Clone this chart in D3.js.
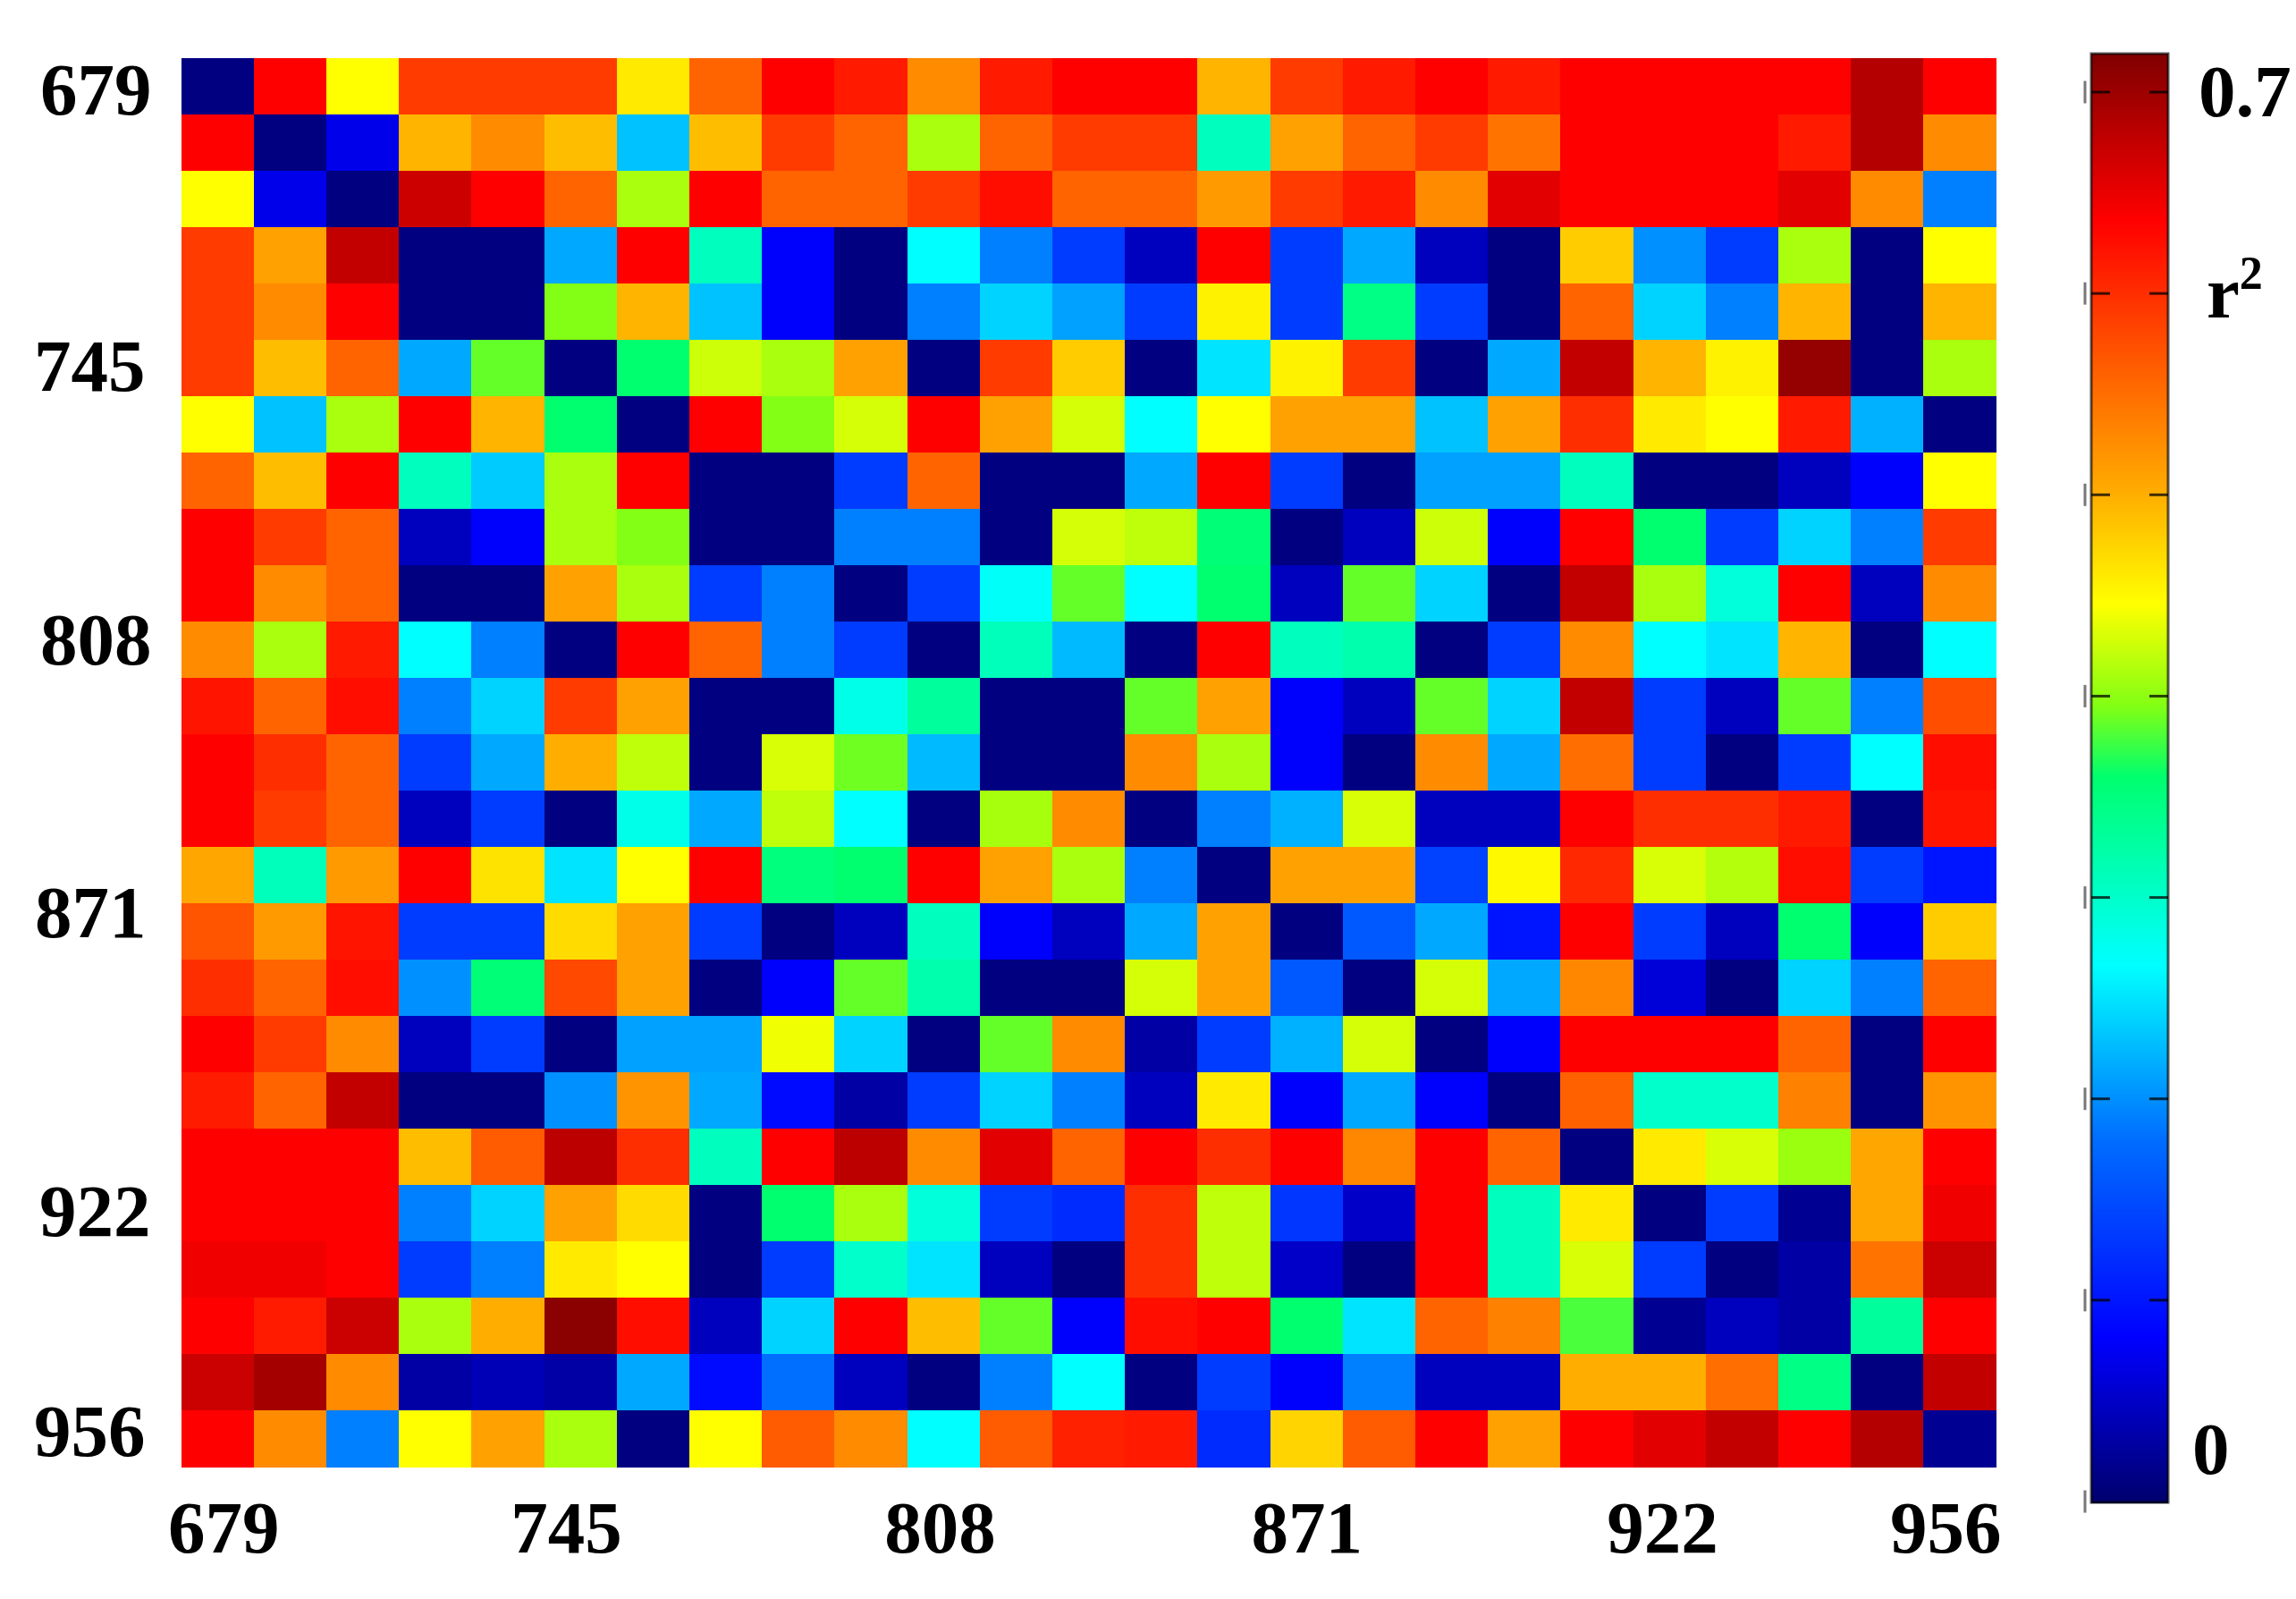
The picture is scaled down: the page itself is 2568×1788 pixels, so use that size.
<!DOCTYPE html>
<html><head><meta charset="utf-8">
<script src="https://cdnjs.cloudflare.com/ajax/libs/d3/7.8.5/d3.min.js"></script>
<style>html,body{margin:0;padding:0;background:#fff}svg{display:block}text{font-family:"Liberation Serif",serif;font-weight:700;fill:#000}</style>
</head><body><svg id="c" width="2568" height="1788"></svg>
<script>
const tickLabels = ["679","745","808","871","922","956"];
const xTickPositions = [0.58,5.3,10.45,15.5,20.4,24.3];
const yTickPositions = [0.61,5.5,10.36,15.2,20.5,24.4];
const colorbarTicks = [0,0.1,0.2,0.3,0.4,0.5,0.6,0.7];
const colorbarLabels = [0,0.7];
const colorStopValues = [0,0.081,0.18,0.266,0.36,0.395,0.446,0.503,0.636,0.719];
const colorStopColors = ["#00006e","#0000ff","#006eff","#00ffff","#00ff6e","#82ff14","#ffff00","#ffaa00","#ff0000","#800000"];
const r2 = [
[.01,.636,.446,.59,.59,.59,.46,.558,.636,.616,.527,.616,.636,.636,.496,.59,.616,.636,.616,.636,.636,.636,.636,.685,.636],
[.636,.01,.07,.496,.527,.49,.23,.49,.59,.558,.411,.558,.59,.59,.308,.51,.558,.59,.545,.636,.636,.636,.616,.685,.527],
[.446,.07,.01,.669,.636,.558,.411,.636,.558,.558,.59,.625,.558,.558,.515,.59,.616,.527,.655,.636,.636,.636,.655,.527,.19],
[.59,.51,.675,.01,.01,.215,.636,.308,.08,.01,.266,.19,.135,.045,.636,.135,.215,.045,.01,.48,.2,.135,.411,.01,.446],
[.59,.527,.636,.01,.01,.395,.496,.23,.08,.01,.19,.24,.21,.135,.455,.135,.345,.135,.01,.558,.24,.19,.496,.01,.496],
[.59,.49,.558,.215,.387,.01,.36,.425,.411,.51,.01,.59,.48,.01,.25,.455,.59,.01,.215,.675,.496,.455,.705,.01,.411],
[.446,.23,.411,.636,.496,.36,.01,.636,.395,.429,.636,.51,.429,.266,.446,.51,.51,.23,.51,.6,.46,.446,.616,.22,.01],
[.558,.49,.636,.308,.235,.411,.636,.01,.01,.135,.558,.01,.01,.215,.636,.135,.01,.21,.21,.308,.01,.01,.045,.08,.446],
[.636,.59,.558,.045,.08,.411,.395,.01,.01,.19,.19,.01,.429,.42,.355,.01,.045,.425,.08,.636,.36,.135,.24,.19,.59],
[.636,.527,.558,.01,.01,.51,.411,.135,.19,.01,.135,.27,.387,.266,.36,.045,.387,.24,.01,.675,.411,.29,.636,.045,.527],
[.527,.411,.616,.266,.19,.01,.636,.558,.19,.135,.01,.31,.225,.01,.636,.308,.32,.01,.135,.527,.266,.25,.496,.01,.266],
[.62,.558,.625,.19,.24,.59,.51,.01,.01,.28,.33,.01,.01,.387,.51,.08,.045,.387,.24,.675,.135,.045,.387,.19,.575],
[.636,.6,.558,.135,.215,.5,.42,.01,.43,.39,.225,.01,.01,.527,.411,.08,.01,.527,.215,.55,.135,.01,.135,.266,.625],
[.636,.59,.558,.045,.135,.01,.28,.215,.42,.266,.01,.41,.527,.01,.19,.22,.43,.045,.045,.636,.6,.6,.616,.01,.62],
[.505,.31,.515,.636,.465,.25,.446,.636,.35,.36,.636,.51,.411,.19,.01,.51,.51,.14,.45,.605,.43,.415,.625,.135,.1],
[.57,.515,.62,.135,.135,.47,.51,.135,.01,.045,.308,.08,.045,.215,.51,.01,.16,.215,.1,.636,.135,.045,.36,.08,.48],
[.6,.558,.625,.2,.355,.58,.51,.01,.08,.387,.32,.01,.01,.429,.51,.16,.01,.429,.215,.53,.06,.01,.24,.19,.558],
[.636,.59,.527,.045,.135,.01,.21,.21,.44,.24,.01,.387,.527,.03,.135,.22,.429,.01,.08,.636,.636,.636,.558,.01,.636],
[.615,.558,.675,.01,.01,.2,.52,.215,.09,.03,.135,.24,.19,.045,.46,.08,.215,.08,.01,.56,.3,.3,.535,.01,.52],
[.636,.636,.636,.49,.565,.68,.6,.308,.636,.68,.527,.655,.558,.636,.6,.636,.53,.636,.558,.01,.46,.43,.405,.505,.636],
[.636,.636,.636,.19,.24,.51,.47,.01,.36,.411,.29,.135,.12,.6,.42,.13,.05,.636,.308,.46,.01,.135,.02,.505,.645],
[.645,.645,.636,.135,.19,.46,.446,.01,.135,.3,.25,.045,.01,.6,.42,.05,.01,.636,.308,.43,.135,.01,.03,.545,.67],
[.636,.615,.67,.411,.5,.712,.625,.045,.24,.636,.49,.387,.08,.625,.636,.36,.25,.558,.535,.38,.02,.045,.03,.33,.636],
[.67,.695,.527,.03,.04,.03,.215,.09,.18,.045,.01,.19,.266,.01,.135,.08,.19,.045,.045,.5,.5,.55,.345,.01,.675],
[.636,.527,.19,.446,.51,.411,.01,.446,.565,.527,.266,.565,.61,.616,.12,.475,.565,.636,.51,.636,.655,.675,.636,.685,.02]
];

const plot = {x:202.6, y:64.6, w:2029.9, h:1575.4};
const svg = d3.select("#c");
const color = d3.scaleLinear().domain(colorStopValues).range(colorStopColors).interpolate(d3.interpolateRgb).clamp(true);
const cols = d3.range(25);
const xBand = d3.scaleBand().domain(cols).range([plot.x, plot.x+plot.w]);
const yBand = d3.scaleBand().domain(cols).range([plot.y, plot.y+plot.h]);
const cells = r2.flatMap((row,r)=>cols.map(c=>({r,c,v:row[c]})));
svg.append("g").attr("shape-rendering","crispEdges").selectAll("rect").data(cells).join("rect")
  .attr("x",d=>xBand(d.c)).attr("y",d=>yBand(d.r))
  .attr("width",xBand.bandwidth()+0.5).attr("height",yBand.bandwidth()+0.5)
  .attr("fill",d=>color(d.v));

const xPos = d3.scaleLinear().domain([0,25]).range([plot.x,plot.x+plot.w]);
const yPos = d3.scaleLinear().domain([0,25]).range([plot.y,plot.y+plot.h]);
const fs = 83;
const xAxis = d3.axisBottom(xPos).tickValues(xTickPositions).tickFormat((d,i)=>tickLabels[i]).tickSize(0);
const gx = svg.append("g").attr("transform",`translate(0,${plot.y+plot.h})`).call(xAxis);
gx.select(".domain").remove();
gx.selectAll("text").attr("y",96).attr("dy",0).attr("font-size",fs).style("font-family",'"Liberation Serif",serif');
const yAxis = d3.axisLeft(yPos).tickValues(yTickPositions).tickFormat((d,i)=>tickLabels[i]).tickSize(0);
const gy = svg.append("g").attr("transform",`translate(${plot.x},0)`).call(yAxis);
gy.select(".domain").remove();
const yLabelShift = [-33,-40,-33,-39,-34,-40];
gy.selectAll("text").attr("x",(d,i)=>yLabelShift[i]).attr("dy","0.30em").attr("font-size",fs).style("font-family",'"Liberation Serif",serif');

// colour bar
const bar = {x:2339, w:86, top:60, bottom:1680};
const barY = d3.scaleLinear().domain([0,0.7]).range([1679,103]);
const barSteps = d3.range(bar.bottom, bar.top, -2);
svg.append("g").attr("shape-rendering","crispEdges").selectAll("rect").data(barSteps).join("rect")
  .attr("x",bar.x).attr("width",bar.w).attr("y",d=>d-2).attr("height",2.5)
  .attr("fill",d=>color(barY.invert(d)));
const edge = svg.append("g").attr("fill","none").attr("stroke","#000");
edge.append("rect").attr("x",bar.x).attr("y",bar.top).attr("width",bar.w).attr("height",bar.bottom-bar.top)
  .attr("stroke-width",3).attr("stroke-opacity",0.65);
const tickG = svg.append("g").selectAll("g").data(colorbarTicks).join("g").attr("transform",d=>`translate(0,${barY(d)})`);
tickG.filter(d=>d>0).append("line").attr("x1",bar.x).attr("x2",bar.x+21).attr("stroke","#000").attr("stroke-opacity",0.75).attr("stroke-width",3);
tickG.filter(d=>d>0).append("line").attr("x1",bar.x+bar.w-21).attr("x2",bar.x+bar.w).attr("stroke","#000").attr("stroke-opacity",0.75).attr("stroke-width",3);
tickG.append("line").attr("x1",2332).attr("x2",2332).attr("y1",-12.5).attr("y2",12.5).attr("stroke","#777").attr("stroke-width",3);

const cbText = svg.append("g").attr("font-size",fs);
cbText.selectAll("text").data(colorbarLabels).join("text")
  .attr("x",d=>d===0?2452:2459).attr("y",d=>d===0?1648:130)
  .text(d=>String(d));
const rl = svg.append("text").attr("x",2468).attr("y",355).attr("font-size",fs);
rl.append("tspan").text("r");
rl.append("tspan").attr("font-size",52).attr("dy",-32).attr("dx",0).text("2");
</script></body></html>
